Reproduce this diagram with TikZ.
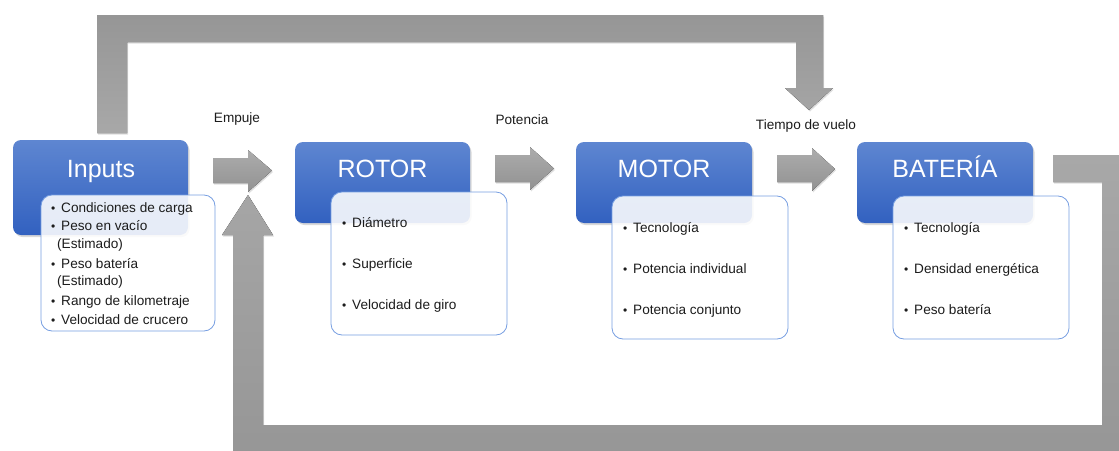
\documentclass[tikz,border=0pt]{standalone}
\usepackage{fontspec}
\setmainfont{Liberation Sans}
\usetikzlibrary{shadows}
\definecolor{blueT}{RGB}{94,134,209}
\definecolor{blueB}{RGB}{50,97,192}
\definecolor{boxline}{RGB}{118,158,225}
\definecolor{textc}{RGB}{28,28,28}
\definecolor{grayA}{RGB}{172,172,172}
\definecolor{grayB}{RGB}{146,146,146}
\definecolor{grayC}{RGB}{150,150,150}
\definecolor{grayD}{RGB}{168,168,168}
\tikzset{
  bluebox/.style={rounded corners=8pt, top color=blueT, bottom color=blueB, draw=none, inner sep=0pt,
    drop shadow={opacity=0.3, shadow xshift=1.5pt, shadow yshift=-2pt}},
  titletext/.style={font=\fontsize{25}{30}\selectfont, text=white, anchor=base, inner sep=0pt},
  listbox/.style={rounded corners=11pt, draw=boxline, line width=0.8pt, fill=white, fill opacity=0.88,
    text opacity=1, inner sep=0pt},
  itemtext/.style={font=\fontsize{13.6}{16}\selectfont, text=textc, inner sep=0pt, anchor=base west},
  bulletmark/.style={font=\fontsize{12}{14}\selectfont, text=textc, inner sep=0pt, anchor=base west},
  labeltext/.style={font=\fontsize{13.6}{16}\selectfont, text=textc, inner sep=0pt, anchor=base},
  smallarrow/.style={top color=grayA, bottom color=grayB, draw=none,
    drop shadow={opacity=0.25, shadow xshift=1pt, shadow yshift=-1.5pt}},
  bigarrowtop/.style={top color=grayC, bottom color=grayD, draw=none,
    drop shadow={opacity=0.25, shadow xshift=1pt, shadow yshift=-1.5pt}},
  bigarrowbot/.style={top color=grayD, bottom color=grayC, draw=none,
    drop shadow={opacity=0.25, shadow xshift=1pt, shadow yshift=-1.5pt}},
}
\newcommand\listline[5]{% name, bullet x, text x, baseline y, text
  \node[bulletmark] (#1b) at (#2,#4) {\textbullet};
  \node[itemtext] (#1) at (#3,#4) {#5};
}
\begin{document}
\begin{tikzpicture}[x=1pt,y=-1pt]
\useasboundingbox (0,0) rectangle (1119,450);
\clip (0,0) rectangle (1119,450);

% feedback arrow on top
\coordinate (topStart) at (112,133);
\coordinate (topTip) at (809,110);
\fill[bigarrowtop] (97,133) -- (97,15) -- (823,15) -- (823,88) -- (833,88) -- (topTip)
  -- (785,88) -- (796,88) -- (796,42) -- (127,42) -- (127,133) -- cycle;

% feedback arrow at bottom
\coordinate (botStart) at (1053,168);
\coordinate (botTip) at (248,195);
\fill[bigarrowbot] (1053,155) -- (1135,155) -- (1135,458) -- (233,458) -- (233,235) -- (222,235)
  -- (botTip) -- (273,235) -- (263,235) -- (263,425) -- (1102,425) -- (1102,182) -- (1053,182) -- cycle;

% small arrows
\fill[smallarrow] (213,158) -- (248,158) -- (248,150) -- (272,170.5) -- (248,192) -- (248,183) -- (213,183) -- cycle;
\fill[smallarrow] (495,155) -- (530,155) -- (530,147) -- (554,168.5) -- (530,190) -- (530,182) -- (495,182) -- cycle;
\fill[smallarrow] (777,155) -- (812,155) -- (812,148) -- (835,169) -- (812,191) -- (812,182) -- (777,182) -- cycle;

% labels
\node[labeltext] (lEmp) at (237,122) {Empuje};
\node[labeltext] (lPot) at (522,124) {Potencia};
\node[labeltext] (lTie) at (806,129) {Tiempo de vuelo};

% blue boxes
\node[bluebox, minimum width=175pt, minimum height=95pt] (inB) at (100.5,187.5) {};
\node[bluebox, minimum width=175pt, minimum height=81pt] (roB) at (382.5,182.5) {};
\node[bluebox, minimum width=176pt, minimum height=81pt] (moB) at (664,182.5) {};
\node[bluebox, minimum width=176pt, minimum height=81pt] (baB) at (945,182.5) {};
\node[titletext] (inT) at (101,177) {Inputs};
\node[titletext] (roT) at (382.5,177) {ROTOR};
\node[titletext] (moT) at (664,177) {MOTOR};
\node[titletext] (baT) at (945,177) {BATERÍA};

% white list boxes
\node[listbox, minimum width=174pt, minimum height=136pt] (inL) at (128,263) {};
\node[listbox, minimum width=176pt, minimum height=143pt] (roL) at (419,263.5) {};
\node[listbox, minimum width=176pt, minimum height=143pt] (moL) at (700,267.5) {};
\node[listbox, minimum width=176pt, minimum height=143pt] (baL) at (981,267.5) {};

% Inputs list
\listline{i1}{51}{61}{212}{Condiciones de carga}
\listline{i2}{51}{61}{230.5}{Peso en vacío}
\node[itemtext] (i2b2) at (57,248.5) {(Estimado)};
\listline{i3}{51}{61}{268}{Peso batería}
\node[itemtext] (i3b2) at (57,285.5) {(Estimado)};
\listline{i4}{51}{61}{305}{Rango de kilometraje}
\listline{i5}{51}{61}{324}{Velocidad de crucero}

% ROTOR list
\listline{r1}{342}{352}{227}{Diámetro}
\listline{r2}{342}{352}{268}{Superficie}
\listline{r3}{342}{352}{309}{Velocidad de giro}

% MOTOR list
\listline{m1}{623}{633}{232}{Tecnología}
\listline{m2}{623}{633}{273}{Potencia individual}
\listline{m3}{623}{633}{314}{Potencia conjunto}

% BATERIA list
\listline{b1}{904}{914}{232}{Tecnología}
\listline{b2}{904}{914}{273}{Densidad energética}
\listline{b3}{904}{914}{314}{Peso batería}
\end{tikzpicture}
\end{document}
